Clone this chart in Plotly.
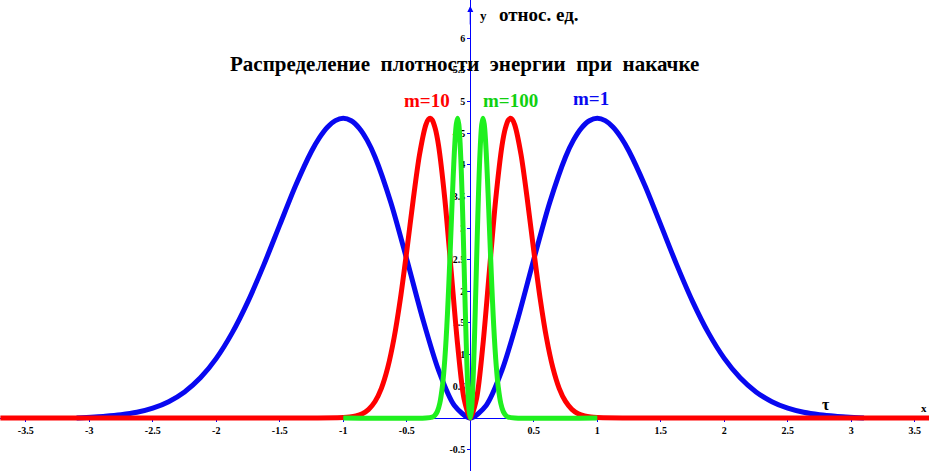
import plotly.graph_objects as go

# ---- data ----
blue_x = [-3.1, -2.875, -2.75, -2.625, -2.5, -2.375, -2.25, -2.125, -2.0, -1.875, -1.75, -1.625,
          -1.5, -1.375, -1.25, -1.1875, -1.125, -1.0625, -1.0, -0.9375, -0.875, -0.8125, -0.75,
          -0.625, -0.5, -0.375, -0.25, -0.125,
          0.0, 0.125, 0.25, 0.375, 0.5, 0.625, 0.75, 0.8125, 0.875, 0.9375, 1.0, 1.0625, 1.125,
          1.1875, 1.25, 1.375, 1.5,
          1.625, 1.75, 1.875, 2.0, 2.125, 2.25, 2.375, 2.5, 2.625, 2.75, 2.875, 3.1]
blue_y = [0.0, 0.027, 0.051, 0.090, 0.155, 0.258, 0.412, 0.635, 0.942, 1.344, 1.842, 2.422,
          3.049, 3.671, 4.212, 4.427, 4.591, 4.695, 4.731, 4.693, 4.578, 4.387, 4.122,
          3.399, 2.504, 1.571, 0.755, 0.198,
          0.0, 0.198, 0.755, 1.571, 2.504, 3.399, 4.122, 4.387, 4.578, 4.693, 4.731, 4.695, 4.591,
          4.427, 4.212, 3.671, 3.049,
          2.422, 1.842, 1.344, 0.942, 0.635, 0.412, 0.258, 0.155, 0.090, 0.051, 0.027, 0.0]

red_x = [-3.7, -1.2, -1.0, -0.95, -0.9, -0.85, -0.8, -0.75, -0.7, -0.65, -0.6, -0.55, -0.5,
         -0.45, -0.4, -0.35, -0.33, -0.316, -0.3, -0.275, -0.25, -0.2, -0.15, -0.1, -0.05,
         0.0, 0.05, 0.1, 0.15, 0.2,
         0.25, 0.275, 0.3, 0.316, 0.33, 0.35, 0.4, 0.45, 0.5, 0.55, 0.6, 0.65, 0.7, 0.75, 0.8,
         0.85, 0.9, 0.95, 1.0, 1.2, 3.7]
red_y = [0.0, 0.0, 0.006, 0.014, 0.032, 0.068, 0.137, 0.261, 0.469, 0.795, 1.265, 1.889, 2.639,
         3.437, 4.154, 4.628, 4.714, 4.731, 4.706, 4.565, 4.303, 3.448, 2.311, 1.164, 0.314,
         0.0, 0.314, 1.164, 2.311, 3.448,
         4.303, 4.565, 4.706, 4.731, 4.714, 4.628, 4.154, 3.437, 2.639, 1.889, 1.265, 0.795,
         0.469, 0.261, 0.137, 0.068, 0.032, 0.014, 0.006, 0.0, 0.0]

green_x = [-1.0, -0.35, -0.3, -0.28, -0.26, -0.24, -0.22, -0.21, -0.2, -0.19, -0.18, -0.17,
           -0.16, -0.15, -0.14, -0.13, -0.12, -0.11, -0.1, -0.09, -0.08, -0.07, -0.06, -0.05,
           -0.04, -0.03, -0.02, -0.01, 0.0, 0.01, 0.02, 0.03, 0.04, 0.05, 0.06, 0.07, 0.08, 0.09,
           0.1, 0.11, 0.12, 0.13, 0.14, 0.15, 0.16, 0.17, 0.18, 0.19, 0.2, 0.21, 0.22, 0.24,
           0.26, 0.28, 0.3, 0.35, 1.0]
green_y = [0.0, 0.0, 0.014, 0.040, 0.101, 0.233, 0.492, 0.690, 0.942, 1.256, 1.631, 2.066,
           2.545, 3.049, 3.551, 4.010, 4.387, 4.640, 4.731, 4.634, 4.340, 3.860, 3.230, 2.504,
           1.753, 1.058, 0.494, 0.127, 0.0, 0.127, 0.494, 1.058, 1.753, 2.504, 3.230, 3.860,
           4.340, 4.634, 4.731, 4.640, 4.387, 4.010, 3.551, 3.049, 2.545, 2.066, 1.631, 1.256,
           0.942, 0.690, 0.492, 0.233, 0.101, 0.040, 0.014, 0.0, 0.0]

x_tick_vals = [-3.5, -3, -2.5, -2, -1.5, -1, -0.5, 0.5, 1, 1.5, 2, 2.5, 3, 3.5]
x_tick_text = ["-3.5", "-3", "-2.5", "-2", "-1.5", "-1", "-0.5", "0.5", "1", "1.5", "2", "2.5", "3", "3.5"]
y_tick_vals = [-0.5, 0.5, 1, 1.5, 2, 2.5, 3, 3.5, 4, 4.5, 5, 5.5, 6]
y_tick_text = ["-0.5", "0.5", "1", "1.5", "2", "2.5", "3", "3.5", "4", "4.5", "5", "5.5", "6"]

title_text = "Распределение  плотности  энергии  при  накачке"
y_unit_text = "относ. ед."
labels = ["m=1", "m=10", "m=100"]

W, H = 929, 471
SERIF = "Liberation Serif"
BLUE, RED, GREEN = "#0808f0", "#ff0000", "#1ff01f"

fig = go.Figure()
fig.add_trace(go.Scatter(x=blue_x, y=blue_y, mode="lines", line=dict(color=BLUE, width=5, shape="spline", smoothing=0.8)))
fig.add_trace(go.Scatter(x=red_x, y=red_y, mode="lines", line=dict(color=RED, width=5, shape="spline", smoothing=0.8)))
fig.add_trace(go.Scatter(x=green_x, y=green_y, mode="lines", line=dict(color=GREEN, width=5, shape="spline", smoothing=0.8)))

tickfont = dict(family=SERIF, size=10, color="black", weight="bold")
fig.update_layout(
    width=W, height=H, margin=dict(l=0, r=0, t=0, b=0, autoexpand=False),
    paper_bgcolor="white", plot_bgcolor="white", showlegend=False,
    xaxis=dict(range=[-3.703, 3.612], anchor="free", position=(H - 418) / H, automargin=False,
               showline=True, linecolor="blue", linewidth=1, ticks="outside", ticklen=3,
               tickcolor="blue", tickvals=x_tick_vals, ticktext=x_tick_text, tickfont=tickfont,
               showgrid=False, zeroline=False, layer="below traces"),
    yaxis=dict(range=[-0.837, 6.600], anchor="free", position=470.3 / W, automargin=False,
               showline=True, linecolor="blue", linewidth=1, ticks="outside", ticklen=3,
               tickcolor="blue", tickvals=y_tick_vals, ticktext=y_tick_text, tickfont=tickfont,
               showgrid=False, zeroline=False, layer="below traces"),
)

def px(x, y):
    return x / W, 1 - y / H

def text(s, x, y, size, color="black", anchor="center"):
    xp, yp = px(x, y)
    fig.add_annotation(text=s, x=xp, y=yp, xref="paper", yref="paper", showarrow=False,
                       xanchor=anchor, yanchor="middle",
                       font=dict(family=SERIF, size=size, color=color, weight="bold"))

# y axis arrow
tx, ty = px(470.3, 6)
fig.add_annotation(x=tx, y=ty, xref="paper", yref="paper", ax=0, ay=20, text="",
                   showarrow=True, arrowhead=2, arrowsize=1, arrowwidth=1.2, arrowcolor="blue")

text(title_text, 464, 64, 21)
text("y", 483, 16, 13, anchor="center")
text(y_unit_text, 497, 15, 19, anchor="left")
text(labels[1], 427, 101, 19, RED)
text(labels[2], 510, 101, 19, "#10d010")
text(labels[0], 591, 99, 19, BLUE)
text("τ", 826, 404, 16)
text("x", 929, 408, 11, anchor="right")

fig.write_html("out.html", config={"displayModeBar": False},
               post_script="document.body.style.margin='0px';document.body.style.overflow='hidden';")
